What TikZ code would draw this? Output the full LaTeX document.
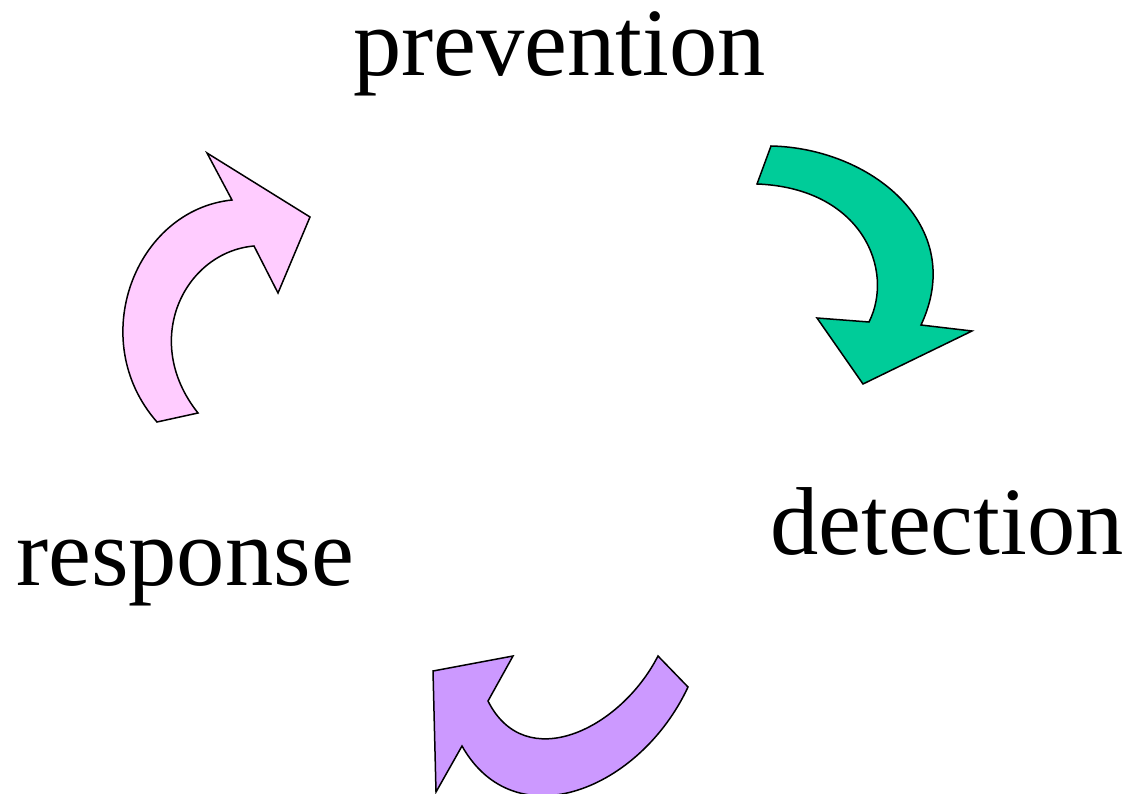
\documentclass[tikz,border=0pt]{standalone}
\usepackage{fontspec}
\setmainfont{Liberation Serif}
\definecolor{arrowgreen}{HTML}{00CC99}
\definecolor{arrowpink}{HTML}{FFCCFF}
\definecolor{arrowpurple}{HTML}{CC99FF}
\tikzset{
  bentarrow/.style={draw=black, line width=1.5pt, line join=miter},
  label/.style={anchor=base west, inner sep=0pt, font=\fontsize{96.5}{100}\selectfont}
}
\begin{document}
\begin{tikzpicture}[x=1pt, y=-1pt]
\useasboundingbox (0,0) rectangle (1126,794);
\clip (0,0) rectangle (1126,794);

% stage labels
\node[label] (prev) at (353,76) {prevention};
\node[label] (det) at (770,554) {detection};
\node[label] (resp) at (16,585) {response};

% prevention -> detection
\filldraw[bentarrow, fill=arrowgreen]
  (771,146) .. controls (870,148) and (968,225) .. (921,325)
  -- (972,331) -- (863,384) -- (817,318) -- (869,322)
  .. controls (895,270) and (862,188) .. (757,184) -- cycle;

% detection -> response
\filldraw[bentarrow, fill=arrowpurple]
  (658,656) .. controls (620,730) and (525,775) .. (488,701)
  -- (513,656) -- (433,671) -- (436,792) -- (462,746)
  .. controls (515,840) and (640,790) .. (688,687) -- cycle;

% response -> prevention
\filldraw[bentarrow, fill=arrowpink]
  (198,413) .. controls (140,340) and (185,252) .. (254,246)
  -- (278,293) -- (310,217) -- (207,153) -- (232,200)
  .. controls (135,210) and (85,340) .. (157,422) -- cycle;
\end{tikzpicture}
\end{document}
